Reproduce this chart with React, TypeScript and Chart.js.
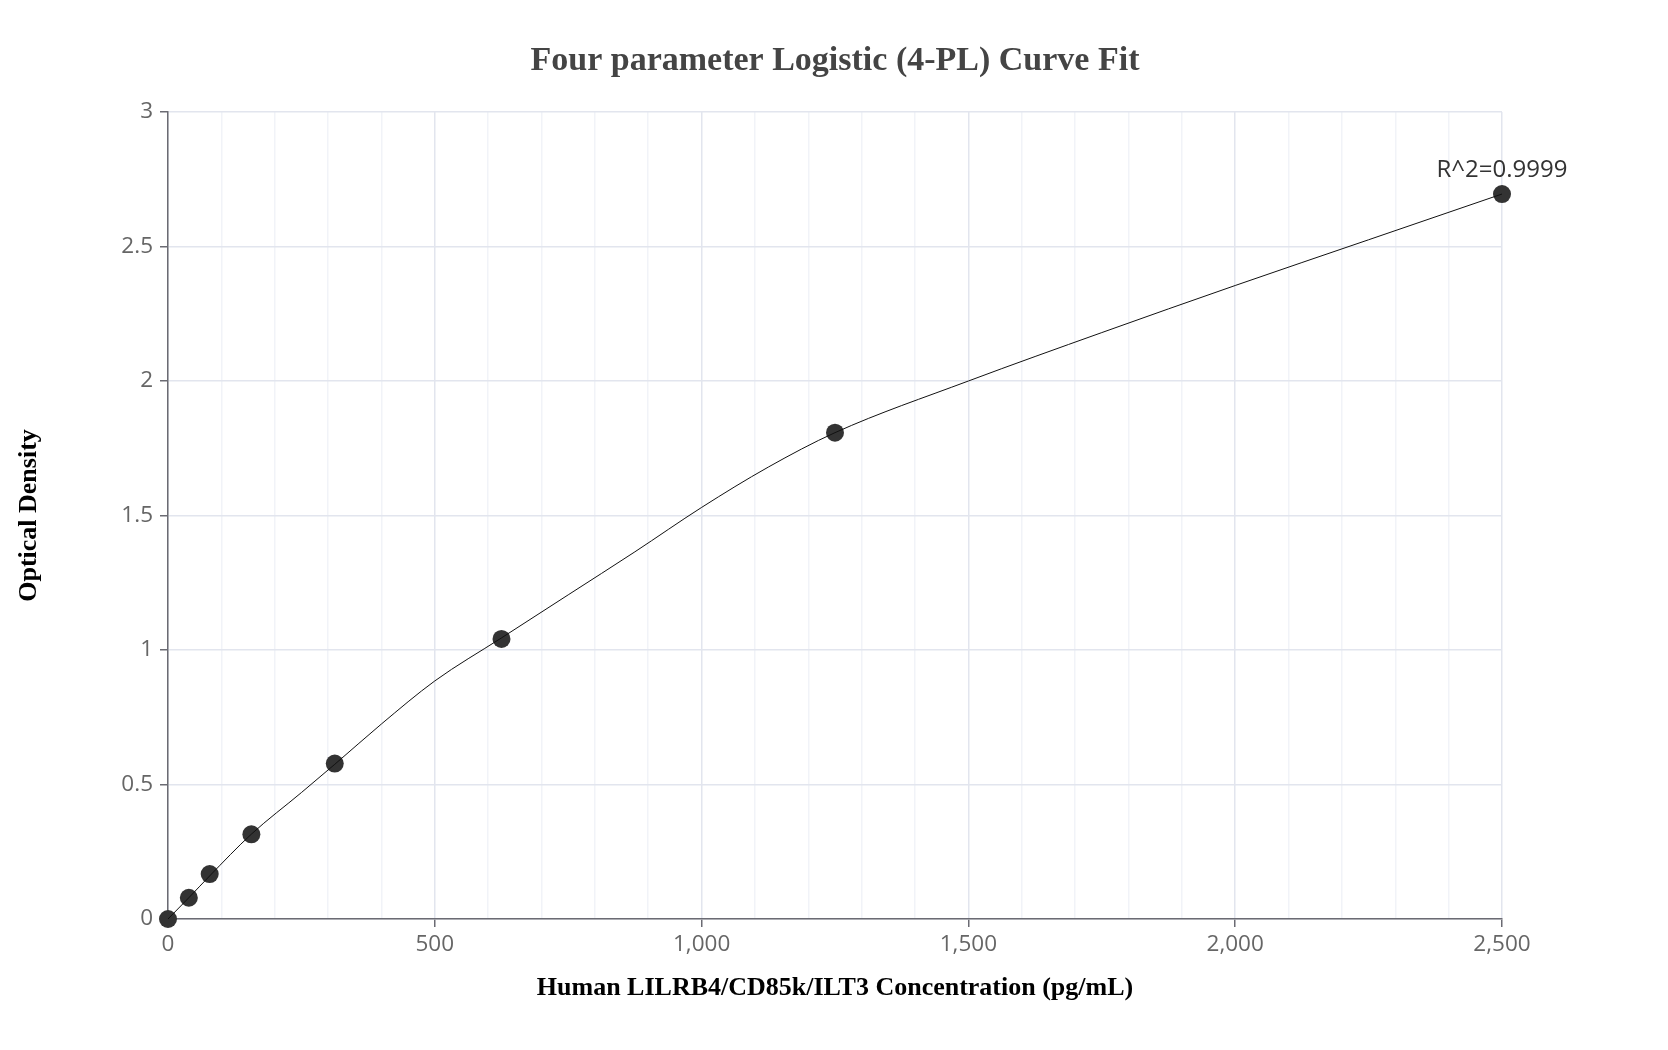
import { useEffect, useRef } from "react"
import { Chart, registerables } from "chart.js"

Chart.register(...registerables)

// measured standards (pg/mL -> OD)
const concentrations = [0, 39.0625, 78.125, 156.25, 312.5, 625, 1250, 2500]
const opticalDensity = [0, 0.079, 0.167, 0.315, 0.578, 1.041, 1.808, 2.695]

// fitted 4-PL curve
const curveX = [0, 39, 78, 156, 250, 312.5, 400, 500, 625, 750, 875, 1000, 1125, 1250, 1500, 1750, 2000, 2250, 2500]
const curveY = [0, 0.079, 0.16, 0.315, 0.47, 0.575, 0.725, 0.885, 1.045, 1.205, 1.365, 1.53, 1.68, 1.808, 2.0, 2.18, 2.355, 2.525, 2.695]

const xTicks = [0, 500, 1000, 1500, 2000, 2500]
const yTicks = [0, 0.5, 1, 1.5, 2, 2.5, 3]

const title = "Four parameter Logistic (4-PL) Curve Fit"
const xTitle = "Human LILRB4/CD85k/ILT3 Concentration (pg/mL)"
const yTitle = "Optical Density"
const r2Label = "R^2=0.9999"

const W = 1668
const H = 1050

const textPlugin = {
  id: "textPlugin",
  afterDraw(chart: Chart) {
    const ctx = chart.ctx
    const area = chart.chartArea
    const cx = (area.left + area.right) / 2
    ctx.save()
    ctx.textAlign = "center"
    ctx.textBaseline = "middle"

    ctx.fillStyle = "#444"
    ctx.font = 'bold 34px "Liberation Serif"'
    ctx.fillText(title, cx, 61)

    ctx.fillStyle = "#000"
    ctx.font = 'bold 26px "Liberation Serif"'
    ctx.fillText(xTitle, cx, 988)

    ctx.save()
    ctx.translate(29, (area.top + area.bottom) / 2)
    ctx.rotate(-Math.PI / 2)
    ctx.fillText(yTitle, 0, 0)
    ctx.restore()

    // R^2 annotation above the last standard
    const last = concentrations.length - 1
    const px = chart.scales.x.getPixelForValue(concentrations[last])
    const py = chart.scales.y.getPixelForValue(opticalDensity[last])
    ctx.fillStyle = "#333"
    ctx.font = '24px "Open Sans"'
    ctx.fillText(r2Label, px, py - 24)
    ctx.restore()
  },
}

export default function App() {
  const chartRef = useRef<HTMLCanvasElement>(null)
  const chartInstance = useRef<Chart | null>(null)

  useEffect(() => {
    document.body.style.margin = "0"
    if (!chartRef.current) return
    if (chartInstance.current) chartInstance.current.destroy()
    const ctx = chartRef.current.getContext("2d")
    if (!ctx) return

    const axisColor = "#6b6b73"
    const majorGrid = "#e2e5ee"
    const minorGrid = "#f1f3f8"

    chartInstance.current = new Chart(ctx, {
      type: "scatter",
      data: {
        datasets: [
          {
            label: "fit",
            data: curveX.map((x, i) => ({ x, y: curveY[i] })),
            showLine: true,
            borderColor: "#111",
            borderWidth: 1,
            pointRadius: 0,
            cubicInterpolationMode: "monotone",
            clip: false,
            order: 0,
          },
          {
            label: "standards",
            data: concentrations.map((x, i) => ({ x, y: opticalDensity[i] })),
            backgroundColor: "#333",
            borderWidth: 0,
            pointRadius: 9,
            clip: false,
            order: 1,
          },
        ],
      },
      options: {
        animation: false,
        responsive: true,
        maintainAspectRatio: false,
        layout: { padding: { left: 0, right: 166, top: 112, bottom: 0 } },
        plugins: {
          legend: { display: false },
          tooltip: { enabled: false },
        },
        scales: {
          x: {
            type: "linear",
            min: 0,
            max: 2500,
            afterFit: (s: any) => {
              s.height = 131
            },
            afterBuildTicks: (s: any) => {
              const ticks = []
              for (let v = 0; v <= 2500; v += 100) ticks.push({ value: v })
              s.ticks = ticks
            },
            ticks: {
              autoSkip: false,
              maxRotation: 0,
              color: "#666",
              padding: 4,
              font: { family: '"Open Sans"', size: 22.5 },
              callback: (v: any) => (xTicks.includes(Number(v)) ? Number(v).toLocaleString("en-US") : ""),
            },
            grid: {
              color: (c: any) => (c.tick && xTicks.includes(c.tick.value) ? majorGrid : minorGrid),
              lineWidth: 1.5,
              tickLength: 8,
              tickColor: (c: any) => (c.tick && xTicks.includes(c.tick.value) ? axisColor : "rgba(0,0,0,0)"),
            },
            border: { color: axisColor, width: 1.5 },
          },
          y: {
            type: "linear",
            min: 0,
            max: 3,
            afterFit: (s: any) => {
              s.width = 168
            },
            afterBuildTicks: (s: any) => {
              s.ticks = yTicks.map((v) => ({ value: v }))
            },
            ticks: {
              color: "#666",
              padding: 7,
              font: { family: '"Open Sans"', size: 22.5 },
              callback: (v: any) => String(v),
            },
            grid: {
              color: majorGrid,
              lineWidth: 1.5,
              tickLength: 8,
              tickColor: axisColor,
            },
            border: { color: axisColor, width: 1.5 },
          },
        },
      },
      plugins: [textPlugin],
    })

    return () => {
      if (chartInstance.current) {
        chartInstance.current.destroy()
        chartInstance.current = null
      }
    }
  }, [])

  return (
    <div style={{ width: W, height: H, background: "#fff" }}>
      <canvas ref={chartRef} />
    </div>
  )
}
